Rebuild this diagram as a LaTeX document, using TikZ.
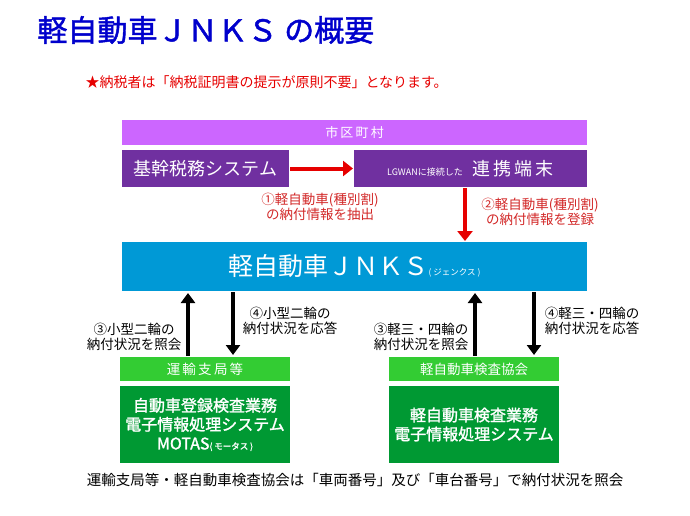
\documentclass[tikz,border=0pt]{standalone}
\usepackage{fontspec}
\setmainfont{Noto Sans CJK JP}
\newfontfamily\cjkb{Noto Sans CJK JP}[FakeBold=1.5]
\usetikzlibrary{arrows.meta}
\definecolor{ttl}{RGB}{0,0,204}
\definecolor{vio}{RGB}{204,102,255}
\definecolor{dpur}{RGB}{112,48,160}
\definecolor{jn}{RGB}{0,153,214}
\definecolor{lg}{RGB}{51,204,51}
\definecolor{dg}{RGB}{0,153,51}
\definecolor{rd}{RGB}{230,0,0}
\definecolor{rtx}{RGB}{210,40,40}
\tikzset{
 box/.style={draw=white,line width=1pt,text=white,inner sep=0pt,anchor=north west},
 rarrow/.style={draw=rd,line width=4pt,-{Triangle[length=10pt,width=15pt]}},
 barrow/.style={draw=black,line width=4pt,-{Triangle[length=10pt,width=14pt]}},
 lab/.style={align=center,font=\fontsize{13.5}{15.5}\selectfont},
}
\begin{document}
\begin{tikzpicture}[x=1pt,y=-1pt]
\useasboundingbox (0,0) rectangle (690,516);
\node[text=ttl,anchor=west,font=\fontsize{30}{32}\selectfont\cjkb] (t) at (34,30) {軽自動車ＪＮＫＳ の概要};
\node[text=rd,anchor=west,font=\fontsize{14}{16}\selectfont] (s) at (82,82) {★納税者は「納税証明書の提示が原則不要」となります。};
\node[box,fill=vio,minimum width=466,minimum height=26,font=\fontsize{13}{15}\selectfont] (city) at (121,119) {市\,区\,町\,村};
\node[box,fill=dpur,minimum width=168,minimum height=38,font=\fontsize{18}{20}\selectfont] (kikan) at (121,149) {基幹税務システム};
\node[box,fill=dpur,minimum width=234,minimum height=38] (term) at (353,149) {{\fontsize{9}{10}\selectfont LGWANに接続した}\quad{\fontsize{18}{20}\selectfont 連\,携\,端\,末}};
\node[box,fill=jn,minimum width=466,minimum height=50,font=\fontsize{25}{28}\selectfont] (jnks) at (121,241) {軽自動車ＪＮＫＳ{\fontsize{8.5}{9}\selectfont ( ジェンクス )}};
\node[box,fill=lg,minimum width=171,minimum height=25,font=\fontsize{13.5}{15}\selectfont] (unyu) at (119,356) {運\,輸\,支\,局\,等};
\node[box,fill=dg,minimum width=171,minimum height=78,align=center,font=\fontsize{16}{19}\selectfont\cjkb] (motas) at (119,385) {自動車登録検査業務\\電子情報処理システム\\MOTAS{\fontsize{8.5}{9}\selectfont ( モータス )}};
\node[box,fill=lg,minimum width=171,minimum height=25,font=\fontsize{13.5}{15}\selectfont] (kyokai) at (388,356) {軽自動車検査協会};
\node[box,fill=dg,minimum width=171,minimum height=78,align=center,font=\fontsize{16}{19}\selectfont\cjkb] (kei) at (388,385) {軽自動車検査業務\\電子情報処理システム};
\draw[rarrow] (kikan.east) -- (term.west);
\draw[rarrow] (term.south -| 465,0) -- (jnks.north -| 465,0);
\node[lab,text=rtx] (l1) at (320,207) {①軽自動車(種別割)\\の納付情報を抽出};
\node[lab,text=rtx] (l2) at (540,212) {②軽自動車(種別割)\\の納付情報を登録};
\draw[barrow] (unyu.north -| 188,0) -- ([yshift=-1pt]jnks.south -| 188,0);
\draw[barrow] (jnks.south -| 233,0) -- ([yshift=1pt]unyu.north -| 233,0);
\draw[barrow] (kyokai.north -| 475,0) -- ([yshift=-1pt]jnks.south -| 475,0);
\draw[barrow] (jnks.south -| 534,0) -- ([yshift=1pt]kyokai.north -| 534,0);
\node[lab] (l3) at (134,337) {③小型二輪の\\納付状況を照会};
\node[lab] (l4) at (290,321) {④小型二輪の\\納付状況を応答};
\node[lab] (l5) at (421,337) {③軽三・四輪の\\納付状況を照会};
\node[lab] (l6) at (592,321) {④軽三・四輪の\\納付状況を応答};
\node[font=\fontsize{14.5}{16}\selectfont] (b) at (355,480) {運輸支局等・軽自動車検査協会は「車両番号」及び「車台番号」で納付状況を照会};
\end{tikzpicture}
\end{document}
